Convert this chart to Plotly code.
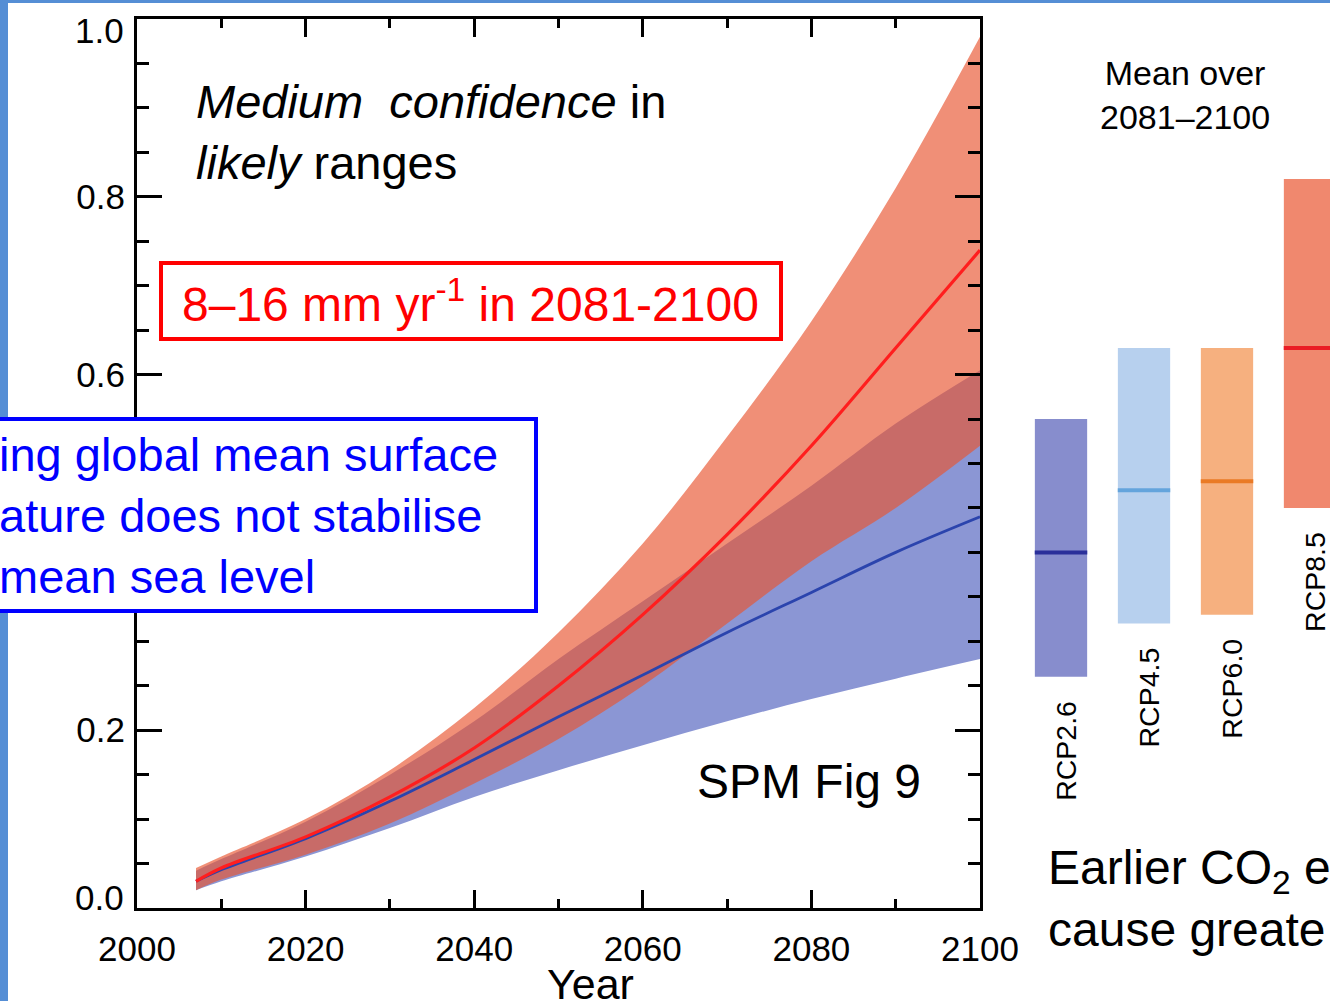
import plotly.graph_objects as go

W, H = 1330, 1001
FONT = "Liberation Sans, Arial, Helvetica, sans-serif"

# ---------------- data ----------------
years = [2007, 2010, 2020, 2030, 2040, 2050, 2060, 2070, 2080, 2090, 2100]
rcp85_mean = [0.030, 0.045, 0.080, 0.125, 0.180, 0.250, 0.330, 0.420, 0.520, 0.630, 0.740]
rcp85_upper = [0.045, 0.058, 0.100, 0.155, 0.225, 0.310, 0.410, 0.530, 0.660, 0.810, 0.980]
rcp85_lower = [0.020, 0.032, 0.060, 0.095, 0.140, 0.190, 0.250, 0.320, 0.390, 0.450, 0.520]
rcp26_mean = [0.030, 0.043, 0.078, 0.120, 0.167, 0.215, 0.262, 0.310, 0.355, 0.400, 0.440]
rcp26_upper = [0.042, 0.055, 0.097, 0.150, 0.210, 0.280, 0.345, 0.410, 0.475, 0.545, 0.605]
rcp26_lower = [0.020, 0.030, 0.058, 0.090, 0.125, 0.155, 0.183, 0.210, 0.235, 0.258, 0.280]

scenarios = ["RCP2.6", "RCP4.5", "RCP6.0", "RCP8.5"]
mean_2081_2100 = [0.40, 0.47, 0.48, 0.63]
low_2081_2100 = [0.26, 0.32, 0.33, 0.45]
high_2081_2100 = [0.55, 0.63, 0.63, 0.82]
bar_colors = ["#878dcd", "#b7d0ee", "#f6b07f", "#f0886e"]
mean_colors = ["#2a2f9a", "#64a4dc", "#ea7a25", "#ea1c24"]

x_ticks = [2000, 2020, 2040, 2060, 2080, 2100]
x_ticklabels = ["2000", "2020", "2040", "2060", "2080", "2100"]
# visible y labels (0.4 is hidden behind the blue box in the original)
y_ticks = [0.2, 0.6, 0.8]
y_ticklabels = ["0.2", "0.6", "0.8"]
# end labels, nudged inward as in the original figure
y_end_ticks = [0.0, 1.0]
y_end_labels = ["0.0", "1.0"]

# ---------------- figure ----------------
fig = go.Figure()

# RCP2.6 likely range (blue)
fig.add_trace(go.Scatter(x=years, y=rcp26_lower, mode="lines", line=dict(width=0, shape="spline"),
                         showlegend=False, hoverinfo="skip"))
fig.add_trace(go.Scatter(x=years, y=rcp26_upper, mode="lines", line=dict(width=0, shape="spline"),
                         fill="tonexty", fillcolor="rgb(139,150,212)", showlegend=False, hoverinfo="skip"))
# RCP8.5 likely range (red, semi-transparent over blue)
fig.add_trace(go.Scatter(x=years, y=rcp85_lower, mode="lines", line=dict(width=0, shape="spline"),
                         showlegend=False, hoverinfo="skip"))
fig.add_trace(go.Scatter(x=years, y=rcp85_upper, mode="lines", line=dict(width=0, shape="spline"),
                         fill="tonexty", fillcolor="rgba(232,85,48,0.66)", showlegend=False, hoverinfo="skip"))
# central projections
fig.add_trace(go.Scatter(x=years, y=rcp26_mean, mode="lines",
                         line=dict(color="#2b44ad", width=2.8, shape="spline"), showlegend=False))
fig.add_trace(go.Scatter(x=years, y=rcp85_mean, mode="lines",
                         line=dict(color="#ff1e1e", width=3.2, shape="spline"), showlegend=False))

# right panel: mean over 2081-2100
pos = list(range(len(scenarios)))
fig.add_trace(go.Bar(x=pos, y=[h - l for h, l in zip(high_2081_2100, low_2081_2100)],
                     base=low_2081_2100, width=0.63, marker=dict(color=bar_colors, line=dict(width=0)),
                     xaxis="x2", yaxis="y2", showlegend=False, hoverinfo="skip"))
fig.add_trace(go.Scatter(x=pos, y=mean_2081_2100, mode="markers",
                         marker=dict(symbol="line-ew", size=37.5, line=dict(color=mean_colors, width=4)),
                         xaxis="x2", yaxis="y2", showlegend=False, hoverinfo="skip"))

axis_common = dict(showline=True, linecolor="black", linewidth=3, mirror="ticks",
                   ticks="inside", tickcolor="black", tickwidth=3, showgrid=False, zeroline=False,
                   tickfont=dict(family=FONT, size=35, color="black"), automargin=False)

fig.update_layout(
    width=W, height=H,
    margin=dict(l=0, r=0, t=0, b=0),
    paper_bgcolor="white", plot_bgcolor="white",
    showlegend=False,
    xaxis=dict(domain=[137 / W, 980 / W], range=[2000, 2100], tickvals=x_ticks, ticktext=x_ticklabels,
               ticklen=18,
               minor=dict(dtick=10, ticklen=9, tickwidth=3, tickcolor="black", ticks="inside"),
               ticklabelstandoff=8, **axis_common),
    yaxis=dict(domain=[93 / H, 982 / H], range=[0, 1.0], tickvals=y_ticks, ticktext=y_ticklabels, ticklen=25,
               minor=dict(dtick=0.05, ticklen=12, tickwidth=3, tickcolor="black", ticks="inside"),
               ticklabelstandoff=2, **axis_common),
    xaxis2=dict(domain=[1000 / W, 1.0], range=[-0.735, 3.241], visible=False, anchor="y2"),
    yaxis2=dict(domain=[93 / H, 982 / H], range=[0, 1.0], visible=False, anchor="x2"),
)

def px(xp):
    return xp / W

def py(yp):
    return 1 - yp / H

shapes = [
    # slide frame stripes
    dict(type="rect", xref="paper", yref="paper", x0=0, x1=px(8), y0=0, y1=1,
         fillcolor="#558ed5", line=dict(width=0), layer="above"),
    dict(type="rect", xref="paper", yref="paper", x0=0, x1=1, y0=py(3), y1=1,
         fillcolor="#558ed5", line=dict(width=0), layer="above"),
    # red box
    dict(type="rect", xref="paper", yref="paper", x0=px(161), x1=px(781), y0=py(339), y1=py(263),
         fillcolor="white", line=dict(color="#ff0000", width=4), layer="above"),
    # blue box
    dict(type="rect", xref="paper", yref="paper", x0=px(-10), x1=px(536), y0=py(611), y1=py(419),
         fillcolor="white", line=dict(color="#0000ff", width=4), layer="above"),
]
fig.update_layout(shapes=shapes)

ann = []
for v, t, dy in zip(y_end_ticks, y_end_labels, [11, -11]):
    ann.append(dict(xref="paper", yref="y", x=px(126), y=v, xanchor="right", yanchor="middle",
                    showarrow=False, text=t, yshift=dy, font=dict(family=FONT, size=35, color="black")))
ann.append(dict(xref="paper", yref="paper", x=px(194), y=py(132), xanchor="left", yanchor="middle",
                align="left", showarrow=False,
                text="<i>Medium\u00a0 confidence</i> in<br><i>likely</i> ranges",
                font=dict(family=FONT, size=47, color="black")))
ann.append(dict(xref="paper", yref="paper", x=px(470), y=py(301), xanchor="center", yanchor="middle",
                showarrow=False, text="8\u201316 mm yr<sup>-1</sup> in 2081-2100",
                font=dict(family=FONT, size=48, color="#ff0000")))
ann.append(dict(xref="paper", yref="paper", x=px(-3), y=py(515), xanchor="left", yanchor="middle",
                align="left", showarrow=False,
                text="ing global mean surface<br>ature does not stabilise<br>mean sea level",
                font=dict(family=FONT, size=47, color="#0000ff")))
ann.append(dict(xref="paper", yref="paper", x=px(809), y=py(781), xanchor="center", yanchor="middle",
                showarrow=False, text="SPM Fig 9", font=dict(family=FONT, size=48, color="black")))
ann.append(dict(xref="paper", yref="paper", x=px(590), y=py(958), xanchor="center", yanchor="top",
                showarrow=False, text="Year", font=dict(family=FONT, size=43, color="black")))
ann.append(dict(xref="paper", yref="paper", x=px(1185), y=py(95), xanchor="center", yanchor="middle",
                showarrow=False, text="Mean over<br>2081\u20132100",
                font=dict(family=FONT, size=34, color="black")))
ann.append(dict(xref="paper", yref="paper", x=px(1046), y=py(898), xanchor="left", yanchor="middle",
                align="left", showarrow=False, text="Earlier CO<sub>2</sub> e<br>cause greate",
                font=dict(family=FONT, size=48, color="black")))
for i, name in enumerate(scenarios):
    ann.append(dict(xref="x2", yref="y2", x=pos[i], y=low_2081_2100[i], xanchor="center", yanchor="top",
                    textangle=-90, showarrow=False, text=name, yshift=-22, xshift=5,
                    font=dict(family=FONT, size=28.5, color="black")))
fig.update_layout(annotations=ann)

fig.write_html("out.html")
